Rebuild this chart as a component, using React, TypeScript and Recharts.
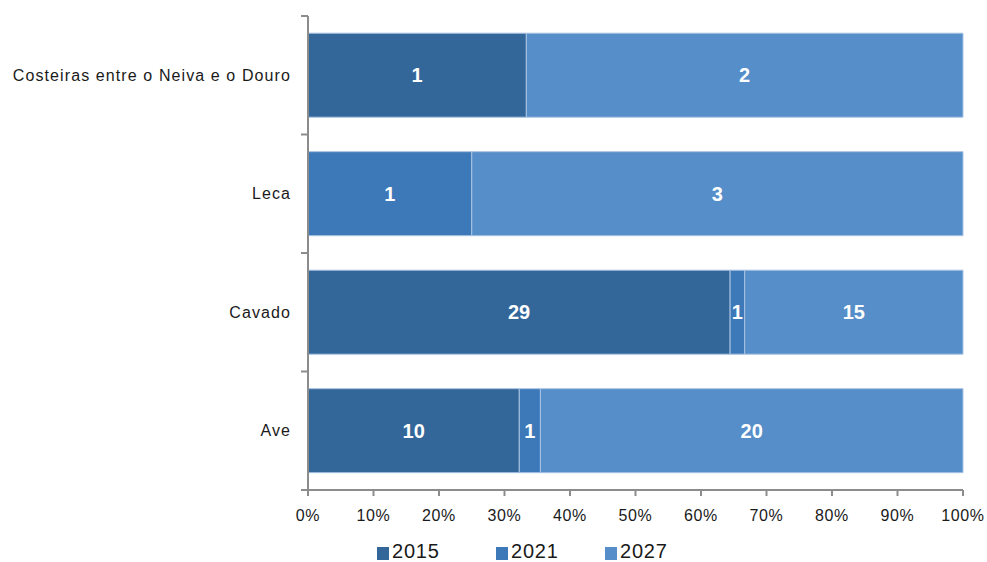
import { Bar, BarChart, LabelList, XAxis, YAxis } from "recharts";

const CATEGORIES = ["Costeiras entre o Neiva e o Douro", "Leca", "Cavado", "Ave"];
const Y2015 = [1, 0, 29, 10];
const Y2021 = [0, 1, 1, 1];
const Y2027 = [2, 3, 15, 20];
const X_TICKS = [0, 0.1, 0.2, 0.3, 0.4, 0.5, 0.6, 0.7, 0.8, 0.9, 1];

const SERIES = [
  { key: "y2015", name: "2015", color: "#336699" },
  { key: "y2021", name: "2021", color: "#3d78b8" },
  { key: "y2027", name: "2027", color: "#558ec8" },
];

const data = CATEGORIES.map((name, i) => ({ name, y2015: Y2015[i], y2021: Y2021[i], y2027: Y2027[i] }));

const FONT = "'Liberation Sans', Arial, sans-serif";
const AXIS = "#8c8c8c";

function CategoryTick(props: any) {
  const { x, y, payload, index } = props;
  const half = payload?.offset ?? 59;
  const ax = x + 17;
  return (
    <g>
      <line x1={ax - 7} x2={ax} y1={y - half} y2={y - half} stroke={AXIS} strokeWidth={2} />
      {index === CATEGORIES.length - 1 && (
        <line x1={ax - 7} x2={ax} y1={y + half} y2={y + half} stroke={AXIS} strokeWidth={2} />
      )}
      <text x={x} y={y} dy="0.35em" textAnchor="end" fontSize={16} letterSpacing={1.1} fill="#1a1a1a" fontFamily={FONT}>
        {payload.value}
      </text>
    </g>
  );
}

function LegendBox() {
  const lefts = [377, 496, 605];
  return (
    <div style={{ position: "absolute", left: 0, top: 541, width: 987, height: 20, fontFamily: FONT }}>
      {SERIES.map((s, i) => (
        <div key={s.key} style={{ position: "absolute", left: lefts[i], top: 0, height: 20, display: "flex", alignItems: "center" }}>
          <span style={{ width: 12, height: 13, background: s.color, marginRight: 3, marginTop: 4 }} />
          <span style={{ fontSize: 20, lineHeight: "20px", letterSpacing: 0.8, color: "#1a1a1a" }}>{s.name}</span>
        </div>
      ))}
    </div>
  );
}

export default function App() {
  return (
    <div style={{ position: "absolute", left: 0, top: 0, width: 987, height: 562, overflow: "hidden", background: "#fff" }}>
      <BarChart
        width={987}
        height={562}
        data={data}
        layout="vertical"
        stackOffset="expand"
        barCategoryGap="14.5%"
        margin={{ top: 16, right: 24, bottom: 42, left: 8 }}
      >
        <XAxis
          type="number"
          domain={[0, 1]}
          ticks={X_TICKS}
          tickFormatter={(v: number) => `${Math.round(v * 100)}%`}
          stroke={AXIS}
          strokeWidth={2}
          tickSize={6}
          tickMargin={14}
          tick={{ fontSize: 16, fill: "#1a1a1a", fontFamily: FONT, letterSpacing: 0.6 }}
          interval={0}
        />
        <YAxis
          type="category"
          dataKey="name"
          width={300}
          stroke={AXIS}
          strokeWidth={2}
          tickLine={false}
          tickSize={0}
          tickMargin={17}
          tick={<CategoryTick />}
          interval={0}
        />
        {SERIES.map((s) => (
          <Bar
            key={s.key}
            dataKey={s.key}
            name={s.name}
            stackId="a"
            fill={s.color}
            stroke="#a9c3e2"
            strokeWidth={1}
            isAnimationActive={false}
          >
            <LabelList
              dataKey={s.key}
              position="center"
              formatter={(v: any) => (v ? v : "")}
              fill="#fff"
              fontSize={20}
              fontWeight="bold"
              fontFamily={FONT}
            />
          </Bar>
        ))}
      </BarChart>
      <LegendBox />
    </div>
  );
}
